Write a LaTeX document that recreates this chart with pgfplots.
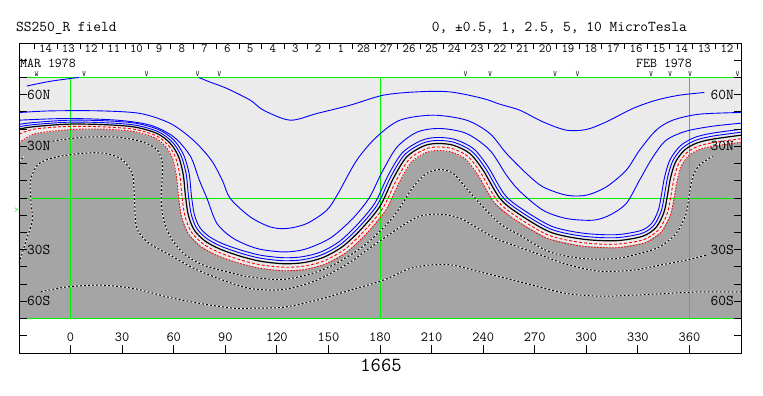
\documentclass[border=0pt]{standalone}
\usepackage{pgfplots}
\pgfplotsset{compat=1.18}
\usepackage{fontspec}
\definecolor{lgray}{RGB}{235,235,235}
\definecolor{dgray}{RGB}{165,165,165}
\definecolor{lgreen}{RGB}{0,240,0}
\definecolor{cblue}{RGB}{0,0,255}
\definecolor{cred}{RGB}{255,0,0}
\newcommand\fA{\ttfamily\fontsize{15pt}{16pt}\selectfont}
\newcommand\fB{\ttfamily\fontsize{14pt}{15pt}\selectfont}
\newcommand\fC{\ttfamily\fontsize{13.5pt}{14pt}\selectfont}
\newcommand\fD{\ttfamily\fontsize{12.5pt}{13pt}\selectfont}
\newcommand\fV{\ttfamily\fontsize{7.5pt}{8pt}\selectfont}
\tikzset{
  bl/.style={cblue, line width=0.9pt, smooth},
  dw/.style={white, line width=1pt, smooth},
  db/.style={black, line width=1pt, smooth, dash pattern=on 2pt off 2pt},
}
\begin{document}
\begin{tikzpicture}
\begin{axis}[
  scale only axis, width=722pt, height=310pt,
  xmin=-30, xmax=390, ymin=-90, ymax=90,
  axis on top, no markers,
  axis line style={line width=0.9pt},
  xtick={0,30,...,360}, xtick pos=left,
  ytick={-80,-70,...,80}, yticklabels={}, ytick pos=both,
  tick align=inside, major tick length=7.5pt,
  tick style={black, line width=0.9pt},
  xticklabel style={anchor=base, yshift=11pt, font=\fB, inner sep=0pt},
  /pgf/number format/assume math mode=true,
]
% map background (positive)
\addplot[fill=lgray, draw=none] coordinates {(-30,-70) (390,-70) (390,70) (-30,70)};
% negative region
\addplot[fill=dgray, draw=none] coordinates {(-30,32.0) (-21.03,37.2) (-1.84,39.6) (17.31,40.04) (36.34,38.66) (49.17,34.86) (55.66,29.44) (59.51,22.47) (61.63,12.55) (62.75,1.14) (64.58,-11.01) (68.59,-20.94) (75.99,-28.37) (85.51,-33.47) (97.53,-37.69) (109.63,-40.68) (123.56,-42.22) (135.90,-41.59) (148.24,-38.37) (160.88,-31.28) (172.52,-20.30) (183.46,-6.91) (191.30,9.37) (198.47,21.10) (206.81,26.38) (213.04,27.59) (221.38,26.76) (229.66,22.71) (236.69,13.78) (246.39,-2.52) (257.53,-11.92) (277.17,-23.42) (297.52,-27.94) (317.56,-28.86) (334.19,-26.04) (343.72,-19.64) (349.02,-9.63) (351.25,1.06) (352.91,10.52) (355.49,18.96) (359.74,24.67) (365.53,28.04) (374.09,30.16) (390,32.4) (390,-70) (-30,-70)};
% green grid
\addplot[lgreen, line width=0.9pt] coordinates {(0,-70) (0,70)};
\addplot[lgreen, line width=0.9pt] coordinates {(180,-70) (180,70)};
\addplot[lgreen, line width=0.9pt] coordinates {(360,-70) (360,70)};
\addplot[lgreen, line width=0.9pt] coordinates {(-30,0) (390,0)};
\addplot[lgreen, line width=0.9pt] coordinates {(-30,70) (390,70)};
\addplot[lgreen, line width=0.9pt] coordinates {(-30,-70) (390,-70)};
% negative contours (dotted)
\addplot[dw] coordinates {(-30,20.6) (-27,24.5)};
\addplot[db] coordinates {(-30,20.6) (-27,24.5)};
\addplot[dw] coordinates {(-10.45,32.98) (7.55,35.30) (27.29,35.30) (42.39,32.40) (50.52,27.76) (53.42,20.21) (53.25,10.34) (52.67,-1.28) (54.18,-12.89) (58.07,-22.59) (65.79,-32.23) (77.40,-39.02) (94.82,-43.84) (104.52,-45.81) (123.85,-47.32) (143.25,-42.91) (156.78,-36.70) (172.28,-26.42) (187.72,-10.97) (199.34,6.45) (207.12,14.23) (214.84,16.55) (222.56,14.23) (230.34,5.52) (238.07,-3.19) (249.68,-14.81) (261.29,-21.60) (278.71,-31.30) (298.05,-35.13) (317.44,-35.13) (330.97,-32.23) (342.58,-28.39) (352.28,-20.61) (358.08,-9.0) (359.99,2.61) (361.91,12.25) (365.80,19.05) (373.53,24.27)};
\addplot[db] coordinates {(-10.45,32.98) (7.55,35.30) (27.29,35.30) (42.39,32.40) (50.52,27.76) (53.42,20.21) (53.25,10.34) (52.67,-1.28) (54.18,-12.89) (58.07,-22.59) (65.79,-32.23) (77.40,-39.02) (94.82,-43.84) (104.52,-45.81) (123.85,-47.32) (143.25,-42.91) (156.78,-36.70) (172.28,-26.42) (187.72,-10.97) (199.34,6.45) (207.12,14.23) (214.84,16.55) (222.56,14.23) (230.34,5.52) (238.07,-3.19) (249.68,-14.81) (261.29,-21.60) (278.71,-31.30) (298.05,-35.13) (317.44,-35.13) (330.97,-32.23) (342.58,-28.39) (352.28,-20.61) (358.08,-9.0) (359.99,2.61) (361.91,12.25) (365.80,19.05) (373.53,24.27)};
\addplot[dw] coordinates {(-30,-37.86) (-25.14,-22.59) (-22.24,-12.89) (-23.23,-0.29) (-23.23,10.34) (-19.34,19.05) (-11.61,22.94) (1.92,25.43) (17.42,26.19) (29.03,22.94) (35.83,14.23) (37.16,-0.29) (38.32,-16.78) (44.54,-25.49) (56.15,-32.23) (71.60,-40.76) (87.10,-47.15) (104.52,-52.55) (123.85,-53.13) (143.25,-47.73) (162.58,-37.28) (172.28,-30.31) (191.61,-16.96) (203.23,-10.57) (214.84,-9.41) (226.45,-11.73) (241.96,-20.61) (249.68,-24.50) (269.02,-31.47) (288.41,-38.44) (307.75,-42.50) (327.08,-41.92) (342.58,-39.02) (358.08,-36.12) (369.70,-33.21)};
\addplot[db] coordinates {(-30,-37.86) (-25.14,-22.59) (-22.24,-12.89) (-23.23,-0.29) (-23.23,10.34) (-19.34,19.05) (-11.61,22.94) (1.92,25.43) (17.42,26.19) (29.03,22.94) (35.83,14.23) (37.16,-0.29) (38.32,-16.78) (44.54,-25.49) (56.15,-32.23) (71.60,-40.76) (87.10,-47.15) (104.52,-52.55) (123.85,-53.13) (143.25,-47.73) (162.58,-37.28) (172.28,-30.31) (191.61,-16.96) (203.23,-10.57) (214.84,-9.41) (226.45,-11.73) (241.96,-20.61) (249.68,-24.50) (269.02,-31.47) (288.41,-38.44) (307.75,-42.50) (327.08,-41.92) (342.58,-39.02) (358.08,-36.12) (369.70,-33.21)};
\addplot[dw] coordinates {(-17.42,-54.52) (-1.92,-51.62) (17.42,-50.63) (36.76,-52.55) (56.15,-57.43) (75.48,-61.26) (94.82,-63.99) (104.52,-63.99) (123.85,-63.41) (143.25,-59.34) (162.58,-53.54) (181.92,-47.73) (197.42,-40.94) (210.95,-38.73) (222.56,-39.02) (238.07,-42.91) (253.57,-46.74) (269.02,-50.63) (288.41,-55.45) (307.75,-57.02) (327.08,-56.44) (346.47,-55.45) (365.80,-54.52) (390,-54.52)};
\addplot[db] coordinates {(-17.42,-54.52) (-1.92,-51.62) (17.42,-50.63) (36.76,-52.55) (56.15,-57.43) (75.48,-61.26) (94.82,-63.99) (104.52,-63.99) (123.85,-63.41) (143.25,-59.34) (162.58,-53.54) (181.92,-47.73) (197.42,-40.94) (210.95,-38.73) (222.56,-39.02) (238.07,-42.91) (253.57,-46.74) (269.02,-50.63) (288.41,-55.45) (307.75,-57.02) (327.08,-56.44) (346.47,-55.45) (365.80,-54.52) (390,-54.52)};
% positive contours (blue)
\addplot[bl] coordinates {(-25.5,65.0) (-11.6,67.8) (4.8,70)};
\addplot[bl] coordinates {(74.50,70) (81.29,67.24) (90.99,63.58) (104.52,56.79) (112.24,50.98) (127.74,45.18) (143.25,49.06) (162.58,53.88) (181.92,59.69) (201.31,61.61) (220.65,61.61) (239.98,57.77) (249.68,54.46) (261.29,50.98) (274.82,44.19) (288.41,39.37) (300.02,39.77) (311.64,44.19) (327.08,51.97) (340.67,56.79) (354.20,59.69) (368.71,61.26)};
\addplot[bl] coordinates {(-30,49.6) (-11.61,50.58) (17.42,50.58) (40.65,49.06) (58.07,43.26) (71.42,33.56) (81.87,21.95) (88.26,10.34) (92.90,-0.29) (104.52,-10.97) (116.13,-16.78) (125.83,-17.71) (137.44,-14.81) (149.05,-7.08) (155.61,2.61) (166.47,21.95) (178.08,35.48) (191.61,45.18) (210.95,48.08) (230.34,45.18) (243.87,37.45) (253.57,25.84) (265.18,14.23) (274.82,6.45) (288.41,1.63) (300.02,1.63) (311.64,6.45) (323.25,16.14) (331.0,27.76) (340.67,39.37) (350.31,45.18) (365.8,48.66) (390,49.65)};
\addplot[bl] coordinates {(-30,45.18) (-1.92,46.16) (27.12,45.18) (46.45,42.27) (59.98,35.48) (69.68,24.27) (74.90,10.34) (79.38,-0.29) (85.18,-14.81) (94.82,-23.52) (108.41,-29.32) (123.85,-31.30) (136.45,-29.73) (150.97,-23.34) (163.74,-12.31) (173.61,-0.12) (181.16,14.98) (189.87,29.50) (201.49,38.21) (214.84,40.36) (230.34,37.45) (243.87,27.76) (253.57,13.24) (261.29,3.95) (274.82,-7.08) (288.41,-11.90) (303.86,-12.89) (313.55,-9.99) (323.25,-3.19) (330.97,10.34) (338.70,23.69) (346.47,33.56) (358.08,38.79) (373.53,41.69) (390,43.43)};
\addplot[bl] coordinates {(-30,42.76) (-21.55,43.81) (-1.99,45.12) (17.51,44.95) (37.12,43.52) (51.34,39.67) (60.13,33.55) (65.77,25.05) (69.02,13.83) (70.22,2.05) (71.90,-9.12) (74.93,-16.78) (80.45,-22.26) (88.46,-26.52) (99.72,-30.45) (110.91,-33.29) (123.78,-34.67) (134.77,-34.12) (145.75,-31.27) (156.50,-25.17) (167.01,-15.17) (177.04,-2.91) (184.65,12.99) (192.96,26.23) (203.71,33.25) (212.82,35.13) (223.57,34.00) (234.49,28.52) (242.80,18.16) (252.50,1.94) (262.36,-6.18) (280.03,-16.47) (298.50,-20.47) (317.34,-21.31) (331.78,-18.87) (338.06,-14.66) (341.92,-7.07) (343.78,2.12) (345.59,12.34) (348.77,22.36) (354.84,30.41) (362.82,35.06) (372.73,37.55) (390,39.9)};
\addplot[bl] coordinates {(-30,41.38) (-21.43,42.61) (-1.95,43.98) (17.47,43.81) (36.94,42.40) (50.84,38.56) (59.10,32.60) (64.32,24.46) (67.32,13.54) (68.49,1.84) (70.21,-9.55) (73.46,-17.74) (79.42,-23.67) (87.78,-28.13) (99.22,-32.12) (110.62,-34.99) (123.73,-36.41) (135.03,-35.85) (146.33,-32.91) (157.51,-26.58) (168.28,-16.36) (178.52,-3.84) (186.19,12.16) (194.23,25.04) (204.43,31.67) (212.87,33.39) (223.07,32.33) (233.37,27.18) (241.39,17.15) (251.09,0.91) (261.24,-7.51) (279.37,-18.08) (298.28,-22.20) (317.39,-23.05) (332.33,-20.53) (339.36,-15.81) (343.56,-7.66) (345.51,1.87) (347.28,11.92) (350.32,21.57) (355.97,29.08) (363.44,33.44) (373.05,35.85) (390,38.2)};
% neutral line
\addplot[black, line width=1.2pt, smooth] coordinates {(-30,40.0) (-21.31,41.40) (-1.92,42.85) (17.42,42.68) (36.76,41.28) (50.34,37.45) (58.07,31.65) (62.88,23.86) (65.61,13.24) (66.77,1.63) (68.52,-9.99) (72.00,-18.70) (78.39,-25.08) (87.10,-29.73) (98.71,-33.79) (110.32,-36.70) (123.68,-38.15) (135.29,-37.57) (146.90,-34.55) (158.52,-27.99) (169.55,-17.54) (180.00,-4.76) (187.72,11.32) (195.50,23.86) (205.14,30.08) (212.92,31.65) (222.56,30.66) (232.26,25.84) (239.98,16.14) (249.68,-0.12) (260.13,-8.83) (278.71,-19.68) (298.05,-23.92) (317.44,-24.79) (332.89,-22.18) (340.67,-16.96) (345.20,-8.25) (347.23,1.63) (348.97,11.50) (351.87,20.79) (357.10,27.76) (364.07,31.82) (373.36,34.14) (390,36.46)};
% weak negative (red)
\addplot[cred, line width=0.9pt, smooth, dash pattern=on 3pt off 2pt] coordinates {(-30,37.0) (-21.17,39.99) (-1.88,41.53) (17.37,41.36) (36.55,39.97) (49.76,36.16) (56.87,30.54) (61.20,23.16) (63.62,12.89) (64.76,1.39) (66.55,-10.50) (70.29,-19.82) (77.19,-26.73) (86.31,-31.60) (98.12,-35.74) (109.97,-38.69) (123.62,-40.18) (135.59,-39.58) (147.57,-36.46) (159.70,-29.64) (171.03,-18.92) (181.73,-5.84) (189.51,10.34) (196.98,22.48) (205.97,28.23) (212.98,29.62) (221.97,28.71) (230.96,24.28) (238.33,14.96) (248.03,-1.32) (258.83,-10.37) (277.94,-21.55) (297.79,-25.93) (317.50,-26.82) (333.54,-24.11) (342.19,-18.30) (347.11,-8.94) (349.24,1.35) (350.94,11.01) (353.68,19.88) (358.42,26.22) (364.80,29.93) (373.73,32.15) (390,34.4)};
\addplot[cred, line width=0.9pt, smooth, dash pattern=on 1.5pt off 1.5pt] coordinates {(-30,32.0) (-21.03,37.2) (-1.84,39.6) (17.31,40.04) (36.34,38.66) (49.17,34.86) (55.66,29.44) (59.51,22.47) (61.63,12.55) (62.75,1.14) (64.58,-11.01) (68.59,-20.94) (75.99,-28.37) (85.51,-33.47) (97.53,-37.69) (109.63,-40.68) (123.56,-42.22) (135.90,-41.59) (148.24,-38.37) (160.88,-31.28) (172.52,-20.30) (183.46,-6.91) (191.30,9.37) (198.47,21.10) (206.81,26.38) (213.04,27.59) (221.38,26.76) (229.66,22.71) (236.69,13.78) (246.39,-2.52) (257.53,-11.92) (277.17,-23.42) (297.52,-27.94) (317.56,-28.86) (334.19,-26.04) (343.72,-19.64) (349.02,-9.63) (351.25,1.06) (352.91,10.52) (355.49,18.96) (359.74,24.67) (365.53,28.04) (374.09,30.16) (390,32.4)};
\end{axis}
% date tick marks along the top edge
\begin{axis}[
  scale only axis, width=722pt, height=310pt,
  xmin=-30, xmax=390, ymin=-90, ymax=90,
  axis line style={draw=none},
  xtick={-20.73,-7.54,5.64,18.83,32.02,45.21,58.39,71.58,84.77,97.95,111.14,124.33,137.51,150.70,163.89,177.08,190.26,203.45,216.64,229.82,243.01,256.20,269.38,282.57,295.76,308.95,322.13,335.32,348.51,361.69,374.88,388.07},
  xticklabels={}, xtick pos=right, ytick=\empty,
  tick align=inside, major tick length=6pt,
  tick style={black, line width=0.9pt},
]
\end{axis}
% texts
\node[anchor=base west, font=\fA, inner sep=0pt] at (-3pt,321.5pt) {SS250\_R field};
\node[anchor=base west, font=\fA, inner sep=0pt] at (412.7pt,321.5pt) {0, ±0.5, 1, 2.5, 5, 10 MicroTesla};
\node[anchor=base, font=\ttfamily\fontsize{20pt}{22pt}\selectfont, inner sep=0pt] at (362pt,-19pt) {1665};
\node[anchor=base west, font=\fC, inner sep=0pt] at (1pt,285.7pt) {MAR 1978};
\node[anchor=base west, font=\fC, inner sep=0pt] at (617pt,285.7pt) {FEB 1978};
\foreach \d [count=\i from 0] in {14,13,12,11,10,9,8,7,6,5,4,3,2,1,28,27,26,25,24,23,22,21,20,19,18,17,16,15,14,13,12}
  \node[anchor=base, font=\fD, inner sep=0pt] at ({26.65pt+22.71pt*\i},300pt) {\d};
\foreach \x in {65,127.7,178.7,200.3,446.7,471,536,558.7,632,651,671,718.7}
  \node[anchor=base, font=\fV, inner sep=0pt] at (\x pt,276.2pt) {V};
\node[anchor=base, font=\fV, inner sep=0pt] at (17.7pt,276.2pt) {W};
\node[text=lgreen, font=\ttfamily\fontsize{8pt}{9pt}\selectfont, inner sep=0pt] at (-2.4pt,143pt) {>};
\foreach \t/\y in {60N/258.5,30N/206.9,30S/103.5,60S/51.9} {
  \node[anchor=west, font=\fA, inner sep=0pt] at (8pt,\y pt) {\t};
  \node[anchor=east, font=\fA, inner sep=0pt] at (715pt,\y pt) {\t};
}
\pgfresetboundingbox
\useasboundingbox (-19pt,-43pt) rectangle (744pt,353pt);
\end{tikzpicture}
\end{document}
